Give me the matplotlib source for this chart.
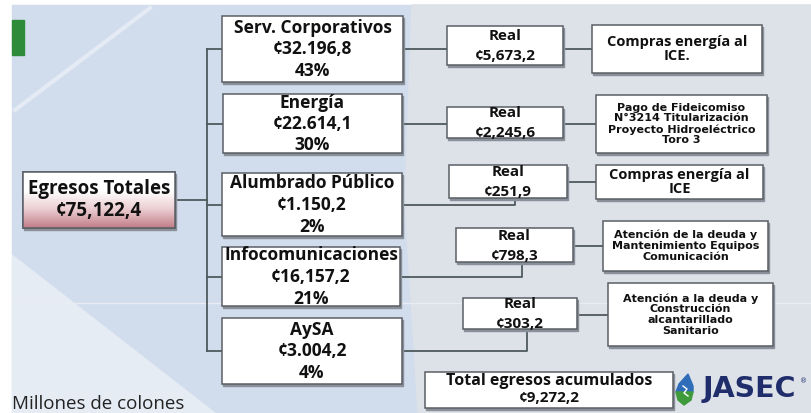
import matplotlib.pyplot as plt
import numpy as np
from matplotlib.patches import Rectangle, Polygon
from matplotlib.colors import LinearSegmentedColormap

# ---- datos (millones de colones) ----
categorias = ["Serv. Corporativos", "Energía", "Alumbrado Público",
              "Infocomunicaciones", "AySA"]
montos = ["¢32.196,8", "¢22.614,1", "¢1.150,2", "¢16,157,2", "¢3.004,2"]
porcentajes = ["43%", "30%", "2%", "21%", "4%"]
reales = ["¢5,673,2", "¢2,245,6", "¢251,9", "¢798,3", "¢303,2"]
destinos = ["Compras energía al\nICE.",
            "Pago de Fideicomiso\nN°3214 Titularización\nProyecto Hidroeléctrico\nToro 3",
            "Compras energía al\nICE",
            "Atención de la deuda y\nMantenimiento Equipos\nComunicación",
            "Atención a la deuda y\nConstrucción\nalcantarillado\nSanitario"]
total_titulo = "Egresos Totales"
total_monto = "¢75,122,4"
acum_titulo = "Total egresos acumulados"
acum_monto = "¢9,272,2"
nota = "Millones de colones"

# ---- layout in pixel units (x0, y0, x1, y1) ----
main_boxes = [(222, 16, 403, 82), (223, 94, 402, 153), (222, 173, 402, 236),
              (222, 247, 400, 306), (222, 318, 402, 384)]
real_boxes = [(447, 26, 563, 65), (447, 107, 563, 138), (449, 165, 567, 198),
              (456, 228, 573, 262), (463, 298, 577, 329)]
desc_boxes = [(592, 25, 762, 73), (596, 95, 767, 153), (596, 165, 763, 199),
              (603, 221, 768, 271), (608, 283, 773, 346)]
desc_font = ["Open Sans", "DejaVu Sans", "Open Sans", "DejaVu Sans", "DejaVu Sans"]
desc_size = [10.5, 8.0, 10.5, 8.0, 8.0]
desc_ls = [0.95, 1.1, 0.95, 1.1, 1.1]

MAIN = "Open Sans"
W, H = 812, 413
fig = plt.figure(figsize=(W / 100, H / 100), dpi=100)
ax = fig.add_axes([0, 0, 1, 1])
ax.set_xlim(0, W)
ax.set_ylim(H, 0)
ax.axis("off")

# background
ax.add_patch(Rectangle((12, 5), W - 12, H - 5, color="#d1dcec", zorder=0))
ax.add_patch(Polygon([(412, 5), (W, 5), (W, H), (418, H), (405, 200)],
                     closed=True, color="#dde2e9", zorder=0))
ax.add_patch(Polygon([(12, 255), (12, H), (215, H)], closed=True,
                     color="#e6ecf4", zorder=0))
ax.plot([15, 150], [110, 8], color="#e4ebf5", lw=3, zorder=0)
ax.plot([12, W], [303, 303], color="#e9ecf2", lw=1, zorder=0)
ax.add_patch(Rectangle((12, 20), 12, 35, color="#2e8b3a", zorder=1))

line_kw = dict(color="#4d5a5c", lw=1.3, zorder=2)
txt_kw = dict(ha="center", va="center", weight="bold", color="#111", zorder=6)


def box(b, face="white"):
    x0, y0, x1, y1 = b
    ax.add_patch(Rectangle((x0 + 1.5, y0 + 1.5), x1 - x0, y1 - y0,
                           color="#8a9099", zorder=3))
    ax.add_patch(Rectangle((x0, y0), x1 - x0, y1 - y0, facecolor=face,
                           edgecolor="#5a5f66", lw=1.1, zorder=4))


# Egresos Totales box with gradient
eg = (23, 172, 175, 228)
box(eg)
cmap = LinearSegmentedColormap.from_list("g", ["#ffffff", "#ffffff", "#ebcdd1", "#c27d87"])
grad = np.linspace(0, 1, 100).reshape(-1, 1)
ax.imshow(grad, cmap=cmap, extent=(eg[0], eg[2], eg[3], eg[1]), aspect="auto",
          zorder=4.5, origin="upper")
ax.add_patch(Rectangle((eg[0], eg[1]), eg[2] - eg[0], eg[3] - eg[1], fill=False,
                       edgecolor="#5a5f66", lw=1.1, zorder=5))
ax.text((eg[0] + eg[2]) / 2, 189, total_titulo, family=MAIN, fontsize=13.5, **txt_kw)
ax.text((eg[0] + eg[2]) / 2, 211, total_monto, family=MAIN, fontsize=13.5, **txt_kw)

# trunk connector
mid_y = [(b[1] + b[3]) / 2 for b in main_boxes]
trunk_x = 207
ax.plot([eg[2], trunk_x], [200, 200], **line_kw)
ax.plot([trunk_x, trunk_x], [mid_y[0], mid_y[-1]], **line_kw)

for i, b in enumerate(main_boxes):
    cy = mid_y[i]
    ax.plot([trunk_x, b[0]], [cy, cy], **line_kw)
    box(b)
    cx = (b[0] + b[2]) / 2
    for dy, s in zip((-21, 0.5, 22), (categorias[i], montos[i], porcentajes[i])):
        ax.text(cx, cy + dy, s, family=MAIN, fontsize=12.5, **txt_kw)

    r = real_boxes[i]
    rcx = (r[0] + r[2]) / 2
    rcy = (r[1] + r[3]) / 2
    if abs(rcy - cy) < 6:
        ax.plot([b[2], r[0]], [cy, cy], **line_kw)
    else:
        jx = rcx + (r[2] - r[0]) * 0.06
        ax.plot([b[2], jx, jx], [cy, cy, r[3]], **line_kw)
    box(r)
    ax.text(rcx, rcy - 9.5, "Real", family=MAIN, fontsize=11, **txt_kw)
    ax.text(rcx, rcy + 10.5, reales[i], family=MAIN, fontsize=11, **txt_kw)

    d = desc_boxes[i]
    dcy = (d[1] + d[3]) / 2
    link_y = min(max(dcy, r[1] + 8), r[3] - 8)
    ax.plot([r[2], d[0]], [link_y, link_y], **line_kw)
    box(d)
    ax.text((d[0] + d[2]) / 2, dcy, destinos[i], family=desc_font[i],
            fontsize=desc_size[i], linespacing=desc_ls[i], **txt_kw)

# total acumulado
tb = (425, 372, 673, 408)
box(tb)
ax.text((tb[0] + tb[2]) / 2, 381, acum_titulo, family=MAIN, fontsize=11.5, **txt_kw)
ax.text((tb[0] + tb[2]) / 2, 398.5, acum_monto, family=MAIN, fontsize=11, **txt_kw)

# JASEC logo
ax.add_patch(Polygon([(688, 374), (693, 386), (693, 392), (676, 392), (679, 384)],
                     closed=True, color="#2f6db8", zorder=6))
ax.add_patch(Polygon([(676, 392), (693, 392), (691, 400), (684, 405), (678, 400)],
                     closed=True, color="#3f9a3c", zorder=6))
ax.plot([683, 687, 684, 688], [386, 389, 393, 396], color="white", lw=1, zorder=7)
ax.text(703, 389, "JASEC", ha="left", va="center", family="DejaVu Sans",
        weight="bold", fontsize=20.5, color="#1f2d6b", zorder=6)
ax.text(800, 381, "®", ha="left", va="center", fontsize=5, color="#1f2d6b", zorder=6)

ax.text(12, 404, nota, ha="left", va="center", family=MAIN, fontsize=13.5,
        color="#222", zorder=6)

fig.savefig("out.png", dpi=100)
